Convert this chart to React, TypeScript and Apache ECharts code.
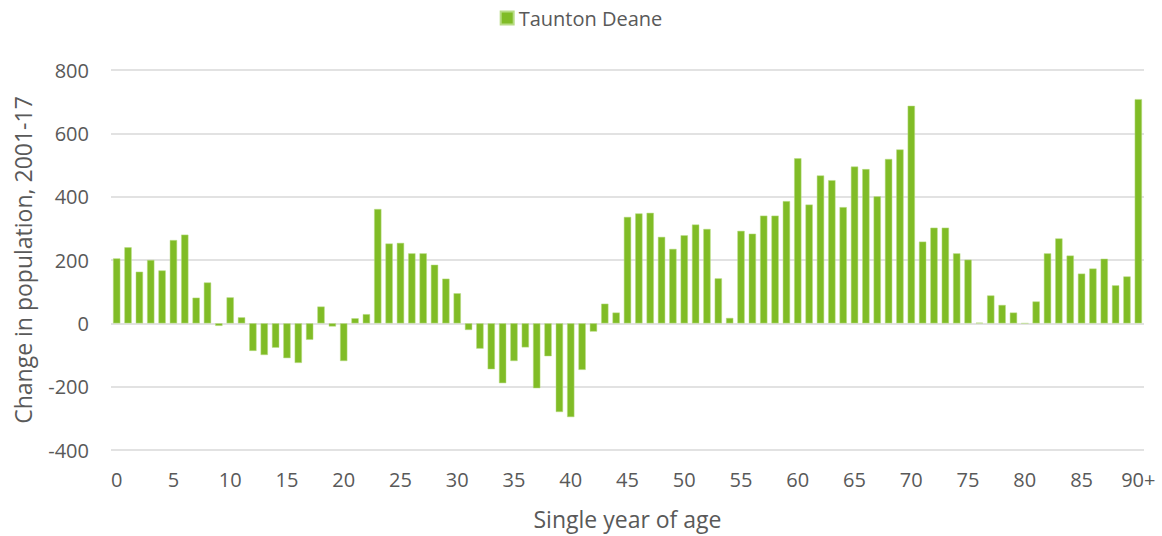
import React, { useEffect, useRef } from "react";
import * as echarts from "echarts";

const ages: string[] = [
  "0","1","2","3","4","5","6","7","8","9",
  "10","11","12","13","14","15","16","17","18","19",
  "20","21","22","23","24","25","26","27","28","29",
  "30","31","32","33","34","35","36","37","38","39",
  "40","41","42","43","44","45","46","47","48","49",
  "50","51","52","53","54","55","56","57","58","59",
  "60","61","62","63","64","65","66","67","68","69",
  "70","71","72","73","74","75","76","77","78","79",
  "80","81","82","83","84","85","86","87","88","89","90+",
];

const tauntonDeane: number[] = [
  205, 240, 163, 200, 167, 263, 280, 81, 129, -8,
  82, 19, -87, -100, -77, -110, -125, -52, 53, -10,
  -119, 16, 29, 361, 252, 254, 221, 221, 185, 141,
  95, -21, -80, -145, -189, -119, -76, -205, -104, -280,
  -296, -147, -26, 62, 34, 336, 347, 349, 273, 235,
  278, 312, 298, 142, 17, 292, 283, 340, 340, 386,
  521, 375, 467, 452, 367, 495, 487, 401, 519, 549,
  687, 258, 302, 302, 221, 201, 2, 88, 58, 34,
  0, 69, 221, 268, 214, 157, 173, 204, 120, 148, 708,
];

const seriesName = "Taunton Deane";
const font = "'Open Sans', sans-serif";
const textColor = "#595959";

export default function App() {
  const ref = useRef<HTMLDivElement>(null);
  useEffect(() => {
    if (!ref.current) return;
    const chart = echarts.init(ref.current, undefined, { renderer: "svg" });
    chart.setOption({
      animation: false,
      textStyle: { fontFamily: font },
      legend: {
        top: 3,
        left: "center",
        itemWidth: 13,
        itemHeight: 13,
        itemGap: 5,
        icon: "rect",
        textStyle: { color: textColor, fontSize: 20, fontFamily: font },
        data: [seriesName],
      },
      grid: { left: 111, right: 18, top: 70, bottom: 86, containLabel: false },
      xAxis: {
        type: "category",
        data: ages,
        name: "Single year of age",
        nameLocation: "middle",
        nameGap: 57,
        nameTextStyle: { color: textColor, fontSize: 23, fontFamily: font },
        axisLine: { show: false },
        axisTick: { show: false },
        axisLabel: { interval: 4, color: textColor, fontSize: 20, margin: 19, fontFamily: font },
      },
      yAxis: {
        type: "value",
        min: -400,
        max: 800,
        interval: 200,
        name: "Change in population, 2001-17",
        nameLocation: "middle",
        nameGap: 77,
        nameTextStyle: { color: textColor, fontSize: 23, fontFamily: font },
        axisLabel: { color: textColor, fontSize: 20, margin: 22, fontFamily: font },
        splitLine: { lineStyle: { color: "#d9d9d9", width: 1.5 } },
        axisLine: { show: false },
        axisTick: { show: false },
      },
      series: [
        {
          name: seriesName,
          type: "bar",
          data: tauntonDeane,
          barWidth: "64%",
          itemStyle: { color: "#80bc26", borderColor: "#b8dc84", borderWidth: 0.5 },
        },
      ],
    });
    return () => chart.dispose();
  }, []);
  return (
    <div
      ref={ref}
      style={{ position: "absolute", left: 0, top: 0, width: 1162, height: 536 }}
    />
  );
}
